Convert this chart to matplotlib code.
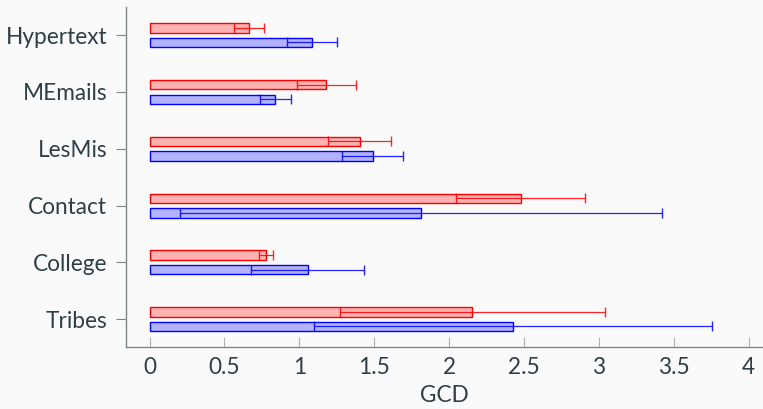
import matplotlib
matplotlib.use("Agg")
import matplotlib.pyplot as plt
import numpy as np

# GCD per network: two methods (red, blue), mean and symmetric spread
networks = ["Tribes", "College", "Contact", "LesMis", "MEmails", "Hypertext"]
red_mean = [2.154, 0.776, 2.477, 1.403, 1.178, 0.665]
red_err = [0.886, 0.045, 0.432, 0.210, 0.197, 0.102]
blue_mean = [2.426, 1.055, 1.810, 1.490, 0.840, 1.086]
blue_err = [1.327, 0.376, 1.610, 0.203, 0.106, 0.166]
xticks = [0, 0.5, 1, 1.5, 2, 2.5, 3, 3.5, 4]
xtick_labels = ["0", "0.5", "1", "1.5", "2", "2.5", "3", "3.5", "4"]

text_color = "#2f3f47"
axis_color = "#7d8587"
bg = "#fafafa"

plt.rcParams["font.family"] = ["Lato", "DejaVu Sans"]

fig = plt.figure(figsize=(7.63, 4.09), dpi=100, facecolor=bg)
ax = fig.add_axes([126 / 763, 1 - 347 / 409, 636 / 763, 339.7 / 409])
ax.set_facecolor(bg)

y = np.arange(len(networks))
h = 0.165
off = 0.128

for vals, errs, fill, edge, dy in [
    (red_mean, red_err, "#ffb2b2", "#ff0000", off),
    (blue_mean, blue_err, "#b2b2ff", "#0000ff", -off),
]:
    ax.barh(y + dy, vals, height=h, color=fill, edgecolor=edge,
            linewidth=1.0, zorder=2)
    ax.errorbar(vals, y + dy, xerr=errs, fmt="none", ecolor=edge,
                elinewidth=0.9, capsize=3.7, capthick=1.0, alpha=0.85,
                zorder=3)

ax.set_xlim(-0.1575, 4.088)
ax.set_ylim(-0.49, 5.49)
ax.set_yticks(y)
ax.set_yticklabels(networks)
ax.set_xticks(xticks)
ax.set_xticklabels(xtick_labels)
ax.set_xlabel("GCD", fontsize=16.3, color=text_color, labelpad=5)

for s in ["top", "right"]:
    ax.spines[s].set_visible(False)
for s in ["left", "bottom"]:
    ax.spines[s].set_color(axis_color)
    ax.spines[s].set_linewidth(1.0)

ax.tick_params(axis="y", direction="out", length=7.5, width=0.8,
               color=axis_color, labelcolor=text_color, labelsize=16.3, pad=6)
ax.tick_params(axis="x", direction="in", length=7.5, width=0.8,
               color="#b0b0b0", labelcolor=text_color, labelsize=16.3, pad=7)

fig.savefig("out.png", dpi=100, facecolor=bg)
